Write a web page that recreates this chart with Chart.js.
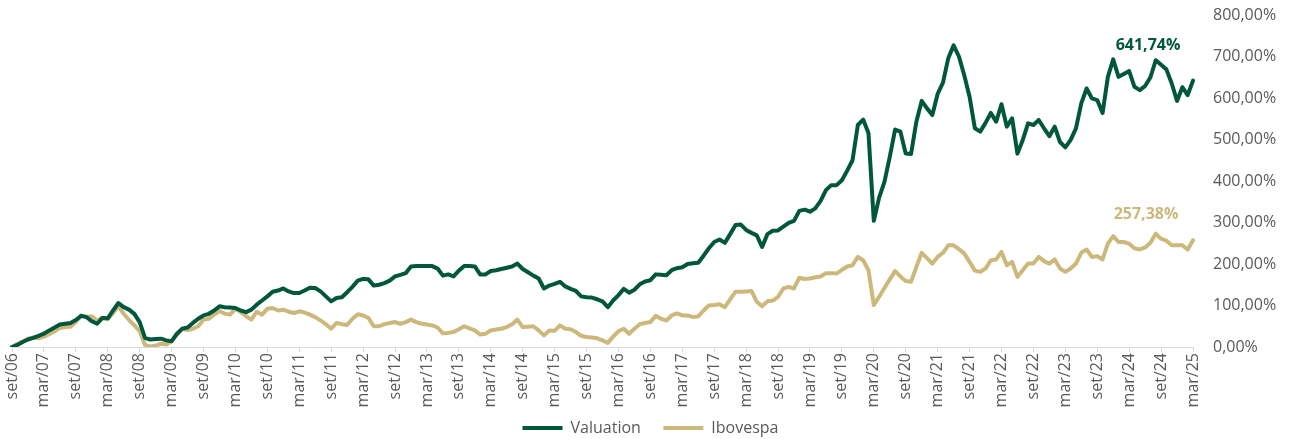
<!DOCTYPE html>
<html>
<head>
<meta charset="utf-8">
<script src="https://cdn.jsdelivr.net/npm/chart.js@4.4.1/dist/chart.umd.min.js"></script>
<style>
  html, body { margin: 0; padding: 0; background: #ffffff; }
  #wrap { width: 1289px; height: 439px; position: relative; }
</style>
</head>
<body>
<div id="wrap"><canvas id="c"></canvas></div>
<script>
// Monthly series, set/06 .. mar/25 (cumulative return, %)
const valuation = [
  0,5,12,18,22,27,32,40,47,54,
  56,58,65,75,72,62,56,70,69,88,
  106,96,90,80,60,22,18,19,20,16,
  14,32,44,47,58,68,76,80,88,98,
  96,95,94,88,84,90,102,112,122,133,
  136,141,134,130,130,136,143,142,134,122,
  110,118,120,132,145,160,164,163,148,150,
  154,160,170,174,178,194,195,195,195,195,
  189,172,175,170,184,195,195,194,175,175,
  183,185,188,191,194,201,188,180,172,165,
  141,148,152,157,146,140,135,122,120,119,
  115,110,96,112,125,140,131,138,151,158,
  161,175,174,173,185,190,192,200,202,203,
  220,238,253,259,251,272,294,295,282,275,
  269,241,272,280,281,290,299,304,328,331,
  326,334,352,378,390,390,402,425,450,535,
  548,515,304,360,398,458,524,519,466,465,
  543,593,575,559,610,637,696,727,700,655,
  603,527,519,540,564,543,585,531,551,466,
  499,539,535,547,527,508,531,494,481,499,
  527,587,623,599,595,564,651,693,651,658,
  665,627,619,629,650,691,680,669,635,593,
  626,607,641.74
];
const ibovespa = [
  0,7,13,20,23,21,25,31,38,46,
  48,49,60,76,73,74,63,71,67,82,
  98,80,65,52,38,5,1,3,8,6,
  14,30,44,41,44,50,66,68,78,87,
  80,78,92,84,74,66,85,78,92,94,
  88,90,85,82,86,83,78,72,64,55,
  44,58,55,53,68,79,76,70,50,50,
  55,58,60,56,60,66,60,56,54,52,
  47,33,34,36,43,50,45,40,30,32,
  40,42,44,48,55,66,48,49,50,40,
  28,40,39,52,44,43,36,27,24,23,
  21,16,10,25,38,44,32,44,55,58,
  60,75,68,64,76,81,76,76,72,74,
  88,100,101,103,96,115,133,133,134,135,
  109,98,110,112,121,141,145,141,167,164,
  165,168,170,178,178,177,186,194,197,217,
  209,185,101,121,142,163,183,170,159,157,
  193,227,214,201,217,227,245,245,236,225,
  205,184,181,189,209,211,229,197,205,169,
  185,201,201,217,207,201,211,189,181,189,
  201,227,235,217,219,211,249,267,253,253,
  249,238,235,240,251,273,261,256,245,245,
  245,235,257.38
];
const monthNames = ['jan','fev','mar','abr','mai','jun','jul','ago','set','out','nov','dez'];
const startYear = 2006, startMonth = 8; // set/06
const seriesNames = ['Valuation', 'Ibovespa'];
const seriesColors = ['#00573B', '#CDB87C'];
const yTicks = [0,100,200,300,400,500,600,700,800];

// category labels (one per month)
const categories = valuation.map((_, i) => {
  const m = (startMonth + i) % 12;
  const y = startYear + Math.floor((startMonth + i) / 12);
  return monthNames[m] + '/' + String(y % 100).padStart(2, '0');
});

const fmtPct = v => v.toFixed(2).replace('.', ',') + '%';

const endLabels = {
  id: 'endLabels',
  afterDatasetsDraw(chart) {
    const ctx = chart.ctx;
    const offsets = [[-45, -35], [-47, -26]];
    chart.data.datasets.forEach((ds, di) => {
      const meta = chart.getDatasetMeta(di);
      const pt = meta.data[meta.data.length - 1];
      const v = ds.data[ds.data.length - 1];
      ctx.save();
      ctx.font = "bold 16px 'Open Sans', sans-serif";
      ctx.fillStyle = ds.borderColor;
      ctx.textAlign = 'center';
      ctx.textBaseline = 'middle';
      ctx.fillText(fmtPct(v), pt.x + offsets[di][0], pt.y + offsets[di][1]);
      ctx.restore();
    });
  }
};

Chart.defaults.font.family = "'Open Sans', sans-serif";
Chart.defaults.font.size = 16;
Chart.defaults.color = '#595959';

new Chart(document.getElementById('c'), {
  type: 'line',
  data: {
    labels: categories,
    datasets: [
      { label: seriesNames[0], data: valuation, borderColor: seriesColors[0], backgroundColor: seriesColors[0],
        borderWidth: 4, pointRadius: 0, tension: 0, borderJoinStyle: 'round', borderCapStyle: 'round' },
      { label: seriesNames[1], data: ibovespa, borderColor: seriesColors[1], backgroundColor: seriesColors[1],
        borderWidth: 4, pointRadius: 0, tension: 0, borderJoinStyle: 'round', borderCapStyle: 'round' }
    ]
  },
  options: {
    responsive: true,
    maintainAspectRatio: false,
    animation: false,
    layout: { padding: { left: 12, right: 0, top: 15, bottom: -7 } },
    plugins: {
      tooltip: { enabled: false },
      legend: {
        position: 'bottom',
        labels: {
          boxWidth: 40, boxHeight: 4, padding: 10,
          font: { size: 16 }, color: '#595959',
          generateLabels: (chart) => Chart.defaults.plugins.legend.labels.generateLabels(chart)
            .map((l, i) => Object.assign(l, { lineWidth: 0, fillStyle: l.strokeStyle,
              text: i === 0 ? l.text + '   ' : l.text }))
        }
      }
    },
    scales: {
      x: {
        type: 'category',
        offset: false,
        border: { display: true, color: '#D9D9D9', width: 1 },
        grid: {
          drawOnChartArea: false, drawTicks: true, tickLength: 5,
          color: c => (c.index % 6 === 0 ? '#D9D9D9' : 'rgba(0,0,0,0)')
        },
        ticks: {
          autoSkip: false, minRotation: 90, maxRotation: 90, padding: 1,
          font: { size: 16 }, color: '#595959',
          callback: function (val, idx) { return idx % 6 === 0 ? this.getLabelForValue(val) : ''; }
        },
        afterFit: s => { s.height = 63; }
      },
      y: {
        position: 'right',
        min: 0, max: 800,
        afterBuildTicks: s => { s.ticks = yTicks.map(v => ({ value: v })); },
        border: { display: false },
        grid: { display: false, drawTicks: true, tickLength: 17 },
        ticks: { padding: 3, font: { size: 16 }, color: '#595959', callback: v => fmtPct(v) },
        afterFit: s => { s.width = 96; }
      }
    }
  },
  plugins: [endLabels]
});
</script>
</body>
</html>
